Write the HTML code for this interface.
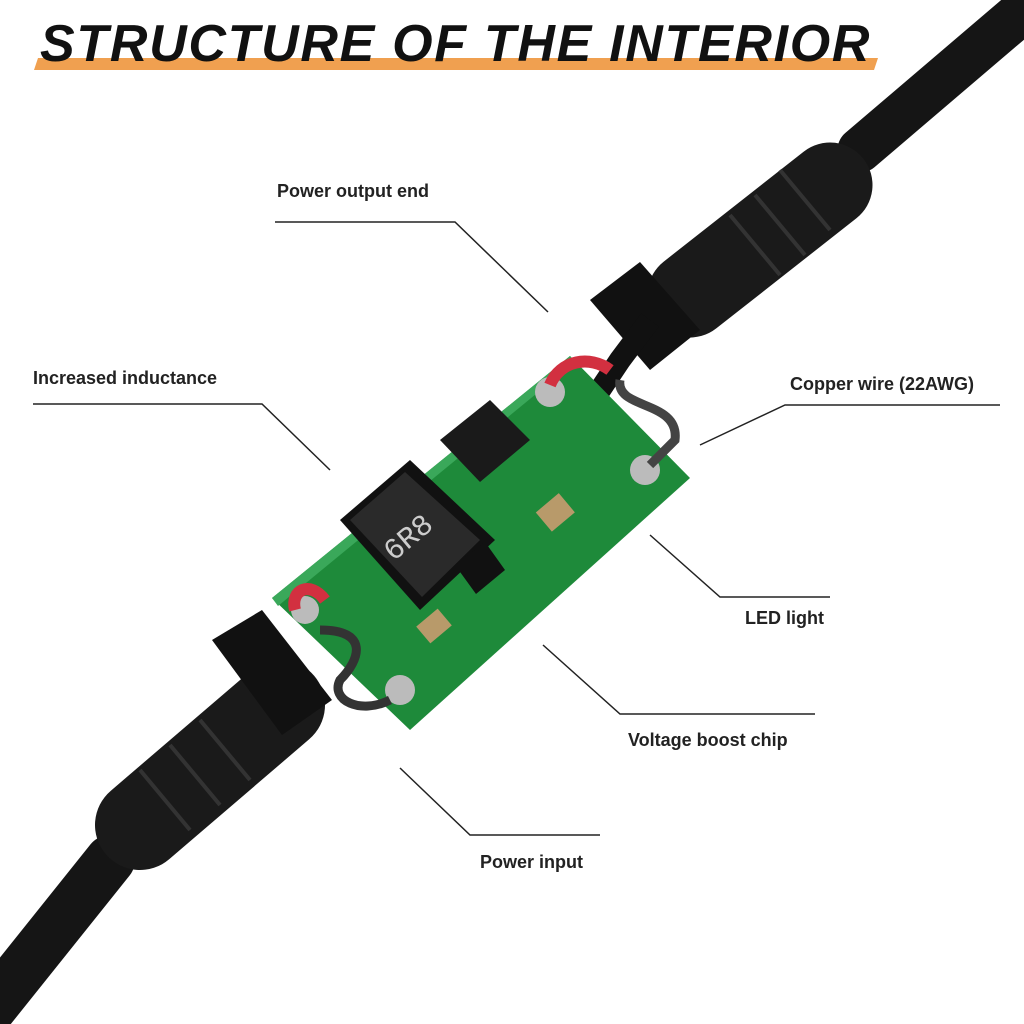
<!DOCTYPE html>
<html><head><meta charset="utf-8"><style>
html,body{margin:0;padding:0;background:#fff}
.w{position:relative;width:1024px;height:1024px;overflow:hidden;font-family:"Liberation Sans",sans-serif}
.t{position:absolute;left:40px;top:14px;font-size:52px;font-weight:bold;font-style:italic;letter-spacing:1.7px;color:#111;white-space:nowrap}
.l{position:absolute;font-size:18px;font-weight:bold;color:#222}
</style></head><body><div class="w">
<svg width="1024" height="1024" style="position:absolute;left:0;top:0">
<polygon points="38,58 878,58 874,70 34,70" fill="#f0a050"/>
<path d="M1030,5 L860,150" stroke="#151515" stroke-width="45" stroke-linecap="round" fill="none"/>
<path d="M830,185 L690,295" stroke="#1a1a1a" stroke-width="85" stroke-linecap="round" fill="none"/>
<g stroke="#333" stroke-width="4">
<line x1="780" y1="170" x2="830" y2="230"/><line x1="755" y1="195" x2="805" y2="255"/><line x1="730" y1="215" x2="780" y2="275"/>
</g>
<polygon points="590,300 640,262 700,330 650,370" fill="#111"/>
<path d="M650,320 L620,360 L600,390" stroke="#111" stroke-width="22" fill="none"/>
<path d="M-10,1010 L110,860" stroke="#151515" stroke-width="50" stroke-linecap="round" fill="none"/>
<path d="M140,825 L280,705" stroke="#1a1a1a" stroke-width="90" stroke-linecap="round" fill="none"/>
<g stroke="#333" stroke-width="4">
<line x1="140" y1="770" x2="190" y2="830"/><line x1="170" y1="745" x2="220" y2="805"/><line x1="200" y1="720" x2="250" y2="780"/>
</g>
<polygon points="212,640 262,610 332,700 282,735" fill="#111"/>
<polygon points="272,598 570,356 690,478 410,730" fill="#1e8a3a"/>
<polygon points="272,598 570,356 575,362 278,606" fill="#3aa85a"/>
<polygon points="340,520 410,460 495,540 420,610" fill="#111"/>
<polygon points="350,520 405,472 480,540 422,597" fill="#2a2a2a"/>
<text x="380" y="545" fill="#ccc" font-size="30" transform="rotate(-40 410 535)" font-family="Liberation Mono">6R8</text>
<polygon points="440,440 490,400 530,440 480,482" fill="#1a1a1a"/>
<polygon points="455,565 485,542 505,570 476,594" fill="#111"/>
<rect x="540" y="500" width="30" height="25" fill="#b89a6a" transform="rotate(-40 555 512)"/>
<rect x="420" y="615" width="28" height="22" fill="#b89a6a" transform="rotate(-40 434 626)"/>
<circle cx="550" cy="392" r="15" fill="#bbb"/><circle cx="645" cy="470" r="15" fill="#bbb"/>
<circle cx="305" cy="610" r="14" fill="#bbb"/><circle cx="400" cy="690" r="15" fill="#bbb"/>
<path d="M550,385 C560,360 590,355 610,370" stroke="#d23040" stroke-width="12" fill="none"/>
<path d="M620,380 C615,410 680,400 675,440 L650,465" stroke="#444" stroke-width="9" fill="none"/>
<path d="M295,610 C290,590 310,580 325,600" stroke="#d23040" stroke-width="12" fill="none"/>
<path d="M320,630 C370,630 360,660 340,680 C330,700 360,715 390,700" stroke="#333" stroke-width="9" fill="none"/>
<g stroke="#222" stroke-width="1.5" fill="none">
<polyline points="275,222 455,222 548,312"/>
<polyline points="33,404 262,404 330,470"/>
<polyline points="1000,405 785,405 700,445"/>
<polyline points="830,597 720,597 650,535"/>
<polyline points="815,714 620,714 543,645"/>
<polyline points="600,835 470,835 400,768"/>
</g>
</svg>
<div class="t">STRUCTURE OF THE INTERIOR</div>
<div class="l" style="left:277px;top:181px">Power output end</div>
<div class="l" style="left:33px;top:368px">Increased inductance</div>
<div class="l" style="left:790px;top:374px">Copper wire (22AWG)</div>
<div class="l" style="left:745px;top:608px">LED light</div>
<div class="l" style="left:628px;top:730px">Voltage boost chip</div>
<div class="l" style="left:480px;top:852px">Power input</div>
</div></body></html>
